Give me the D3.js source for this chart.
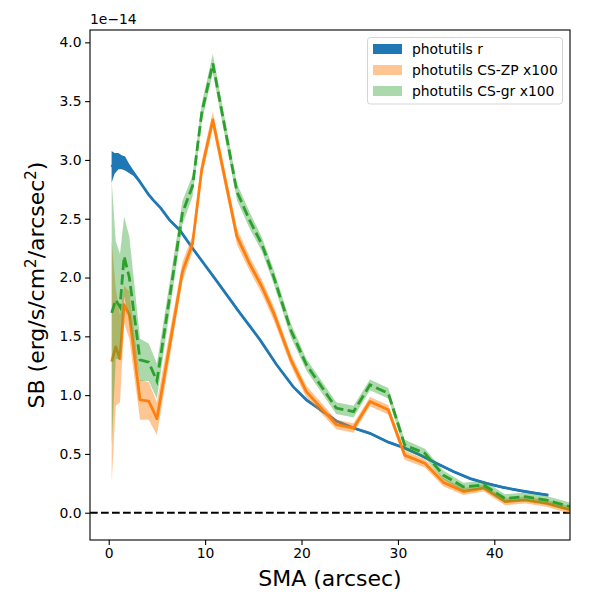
<!DOCTYPE html>
<html>
<head>
<meta charset="utf-8">
<script src="https://cdn.jsdelivr.net/npm/d3@7"></script>
<style>
  body { margin: 0; background: #fff; }
  text { font-family: "DejaVu Sans", sans-serif; }
</style>
</head>
<body>
<svg id="chart" width="600" height="600"></svg>
<script>
// SB profiles (units of 1e-14 erg/s/cm^2/arcsec^2)
const blueSma = [0.3, 0.6, 1.0, 1.35, 1.7, 2.1, 2.55, 3.1, 3.6, 4.1, 4.6, 5.4, 6.3, 7.4, 8.6, 9.5, 10.85, 13.6, 15.7, 17.4, 19.15, 20.5, 21.9, 23.6, 25.4, 27.1, 29.0, 30.7, 32.3, 34.0, 35.75, 37.5, 39.2, 40.9, 42.7, 44.4, 45.6]
const blueSb = [2.94, 2.97, 2.99, 2.98, 2.97, 2.93, 2.89, 2.83, 2.77, 2.71, 2.66, 2.59, 2.49, 2.40, 2.26, 2.16, 2.01, 1.70, 1.47, 1.26, 1.07, 0.96, 0.88, 0.78, 0.72, 0.675, 0.60, 0.55, 0.49, 0.42, 0.35, 0.29, 0.25, 0.216, 0.187, 0.165, 0.15]
const blueErr = [0.135, 0.09, 0.07, 0.06, 0.06, 0.04, 0.025, 0.015, 0.01, 0.01, 0.01, 0.01, 0.01, 0.01, 0.01, 0.01, 0.01, 0.01, 0.01, 0.01, 0.01, 0.01, 0.01, 0.01, 0.01, 0.01, 0.01, 0.01, 0.01, 0.01, 0.01, 0.01, 0.01, 0.01, 0.01, 0.01, 0.01]

const csSma = [0.31, 0.73, 1.17, 1.6, 2.14, 3.25, 4.15, 5.0, 7.65, 8.7, 9.65, 10.8, 13.3, 14.6, 15.9, 17.1, 18.9, 20.5, 23.6, 25.4, 27.1, 29.0, 30.7, 32.8, 34.7, 36.8, 38.9, 41.1, 43.2, 45.4, 47.9]
const zpSb = [1.285, 1.41, 1.31, 1.77, 1.68, 0.96, 0.95, 0.80, 2.05, 2.29, 2.92, 3.34, 2.35, 2.12, 1.92, 1.70, 1.30, 1.03, 0.75, 0.72, 0.945, 0.875, 0.49, 0.42, 0.26, 0.18, 0.21, 0.094, 0.108, 0.08, 0.023]
const zpErr = [1.03, 0.5, 0.37, 0.16, 0.2, 0.17, 0.16, 0.14, 0.08, 0.07, 0.07, 0.07, 0.07, 0.06, 0.06, 0.06, 0.05, 0.05, 0.04, 0.04, 0.04, 0.04, 0.04, 0.035, 0.035, 0.03, 0.03, 0.03, 0.03, 0.03, 0.03]
const grSb = [1.70, 1.81, 1.75, 2.18, 2.0, 1.30, 1.28, 1.12, 2.55, 2.78, 3.40, 3.82, 2.73, 2.49, 2.28, 2.01, 1.55, 1.26, 0.89, 0.86, 1.087, 1.016, 0.576, 0.505, 0.32, 0.22, 0.236, 0.122, 0.136, 0.108, 0.051]
const grErr = [1.12, 0.5, 0.45, 0.34, 0.35, 0.18, 0.16, 0.15, 0.1, 0.09, 0.08, 0.08, 0.07, 0.07, 0.06, 0.06, 0.06, 0.05, 0.05, 0.05, 0.045, 0.045, 0.045, 0.04, 0.04, 0.035, 0.035, 0.035, 0.035, 0.035, 0.035]

const xTicks = [0, 10, 20, 30, 40]
const yTicks = [0.0, 0.5, 1.0, 1.5, 2.0, 2.5, 3.0, 3.5, 4.0]
const legendLabels = ["photutils r", "photutils CS-ZP x100", "photutils CS-gr x100"]

// Layout
const axLeft = 90, axRight = 570, axTop = 30, axBottom = 540
const blue = "#1f77b4", orange = "#ff7f0e", green = "#2ca02c"

const svg = d3.select("#chart")

const x = d3.scaleLinear().domain([-1.94, 47.85]).range([axLeft, axRight])
const y = d3.scaleLinear().domain([-0.232, 4.105]).range([axBottom, axTop])

svg.append("clipPath").attr("id", "plot-clip")
    .append("rect")
    .attr("x", axLeft).attr("y", axTop)
    .attr("width", axRight - axLeft).attr("height", axBottom - axTop)

const plot = svg.append("g").attr("clip-path", "url(#plot-clip)")

function series(sma, sb, err) {
    return sma.map((s, i) => ({ s: s, v: sb[i], e: err[i] }))
}

const area = d3.area()
    .x(d => x(d.s))
    .y0(d => y(d.v - d.e))
    .y1(d => y(d.v + d.e))

const line = d3.line()
    .x(d => x(d.s))
    .y(d => y(d.v))

const blueData = series(blueSma, blueSb, blueErr)
const zpData = series(csSma, zpSb, zpErr)
const grData = series(csSma, grSb, grErr)

// zero line
plot.append("line")
    .attr("x1", axLeft).attr("x2", axRight)
    .attr("y1", y(0)).attr("y2", y(0))
    .attr("stroke", "#000")
    .attr("stroke-width", 2.08)
    .attr("stroke-dasharray", "7.7,3.3")

plot.append("path").datum(blueData)
    .attr("d", area).attr("fill", blue)
plot.append("path").datum(blueData)
    .attr("d", line).attr("fill", "none")
    .attr("stroke", blue).attr("stroke-width", 2.78)

plot.append("path").datum(zpData)
    .attr("d", area).attr("fill", orange).attr("fill-opacity", 0.45)
plot.append("path").datum(zpData)
    .attr("d", line).attr("fill", "none")
    .attr("stroke", orange).attr("stroke-width", 2.78)
    .attr("stroke-linejoin", "round")

plot.append("path").datum(grData)
    .attr("d", area).attr("fill", green).attr("fill-opacity", 0.4)
plot.append("path").datum(grData)
    .attr("d", line).attr("fill", "none")
    .attr("stroke", green).attr("stroke-width", 2.78)
    .attr("stroke-dasharray", "10.3,4.4")

// axes
const xAxis = svg.append("g")
    .attr("transform", `translate(0,${axBottom})`)
    .call(d3.axisBottom(x).tickValues(xTicks).tickSize(4.9).tickPadding(3.5).tickFormat(d3.format("d")))
const yAxis = svg.append("g")
    .attr("transform", `translate(${axLeft},0)`)
    .call(d3.axisLeft(y).tickValues(yTicks).tickSize(4.9).tickPadding(3.5).tickFormat(d3.format(".1f")))

for (const ax of [xAxis, yAxis]) {
    ax.select(".domain").remove()
    ax.selectAll(".tick line").attr("stroke", "#000").attr("stroke-width", 1.1)
    ax.selectAll(".tick text")
        .attr("fill", "#000")
        .style("font-family", "DejaVu Sans")
        .style("font-size", "13.9px")
}

svg.append("rect")
    .attr("x", axLeft).attr("y", axTop)
    .attr("width", axRight - axLeft).attr("height", axBottom - axTop)
    .attr("fill", "none").attr("stroke", "#000").attr("stroke-width", 1.1)

// offset text
svg.append("text")
    .attr("x", axLeft).attr("y", axTop - 6)
    .style("font-size", "13.9px")
    .text("1e\u221214")

// axis labels
svg.append("text")
    .attr("x", (axLeft + axRight) / 2).attr("y", 586)
    .attr("text-anchor", "middle")
    .style("font-size", "22px")
    .text("SMA (arcsec)")

const yl = svg.append("text")
    .attr("transform", `translate(44,${(axTop + axBottom) / 2}) rotate(-90)`)
    .attr("text-anchor", "middle")
    .style("font-size", "22px")
yl.append("tspan").text("SB (erg/s/cm")
yl.append("tspan").attr("dy", -8).style("font-size", "15px").text("2")
yl.append("tspan").attr("dy", 8).text("/arcsec")
yl.append("tspan").attr("dy", -8).style("font-size", "15px").text("2")
yl.append("tspan").attr("dy", 8).text(")")

// legend
const legend = svg.append("g")
legend.append("rect")
    .attr("x", 367.5).attr("y", 37.5)
    .attr("width", 195).attr("height", 66.5)
    .attr("rx", 3)
    .attr("fill", "#fff").attr("fill-opacity", 0.8)
    .attr("stroke", "#d5d5d5").attr("stroke-width", 1)

const legendFill = [
    { c: blue, o: 1 },
    { c: orange, o: 0.45 },
    { c: green, o: 0.4 }
]
legendLabels.forEach((lab, i) => {
    const cy = 49 + i * 21
    legend.append("rect")
        .attr("x", 373).attr("y", cy - 5)
        .attr("width", 29).attr("height", 10)
        .attr("fill", legendFill[i].c).attr("fill-opacity", legendFill[i].o)
    legend.append("text")
        .attr("x", 412).attr("y", cy + 5)
        .style("font-size", "13.9px")
        .text(lab)
})
</script>
</body>
</html>
